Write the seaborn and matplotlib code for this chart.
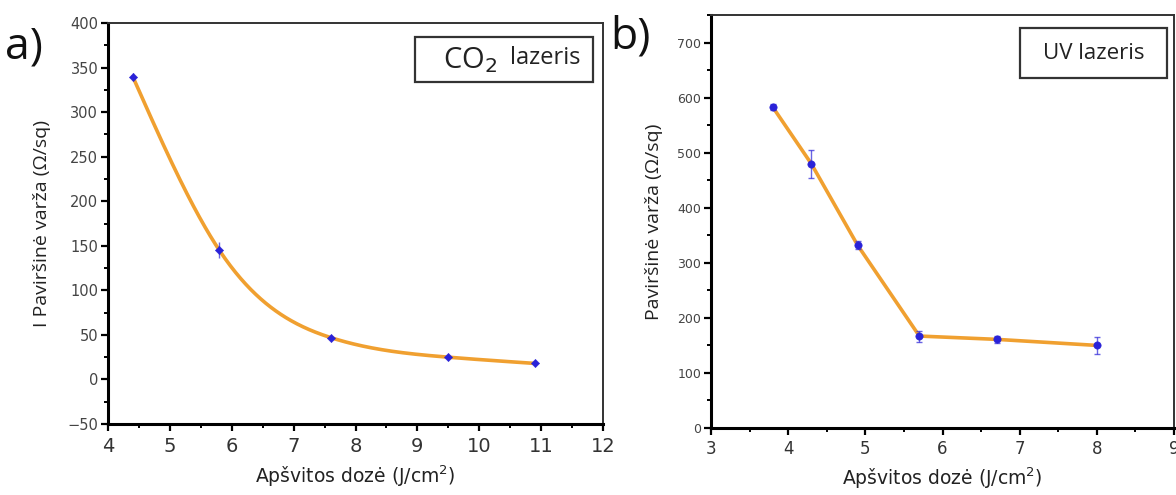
import numpy as np
import pandas as pd
import matplotlib
matplotlib.use("Agg")
import matplotlib.pyplot as plt
import seaborn as sns
from matplotlib.ticker import MultipleLocator
from matplotlib.patches import Rectangle

# ---- data ----
co2_dose = [4.4, 5.8, 7.6, 9.5, 10.9]
co2_res = [340, 145, 47, 25, 18]
co2_err = [4, 9, 3, 3, 3]

uv_dose = [3.8, 4.3, 4.9, 5.7, 6.7, 8.0]
uv_res = [583, 480, 332, 167, 161, 150]
uv_err = [6, 25, 7, 10, 7, 15]

xlabel = "Apšvitos dozė (J/cm$^2$)"
ylabel_a = "I Paviršinė varža (Ω/sq)"
ylabel_b = "Paviršinė varža (Ω/sq)"
box_a_main = "CO$_2$"
box_a_rest = "lazeris"
box_b = "UV lazeris"

sns.set_theme(style="ticks")
plt.rcParams['font.family'] = ['DejaVu Sans']
SANS = ["Open Sans", "DejaVu Sans"]

ORANGE = "#F0A030"
BLUE = "#2A22D8"

fig = plt.figure(figsize=(11.76, 4.95), dpi=100)
ax_a = fig.add_axes([0.0918, 0.1434, 0.421, 0.810])
ax_b = fig.add_axes([0.6046, 0.1354, 0.3937, 0.834])


# ---- natural cubic spline connection through the points (panel a) ----
def natural_spline(x, y, xs):
    x = np.asarray(x, float)
    y = np.asarray(y, float)
    n = len(x)
    h = np.diff(x)
    A = np.zeros((n, n))
    r = np.zeros(n)
    A[0, 0] = A[-1, -1] = 1.0
    for i in range(1, n - 1):
        A[i, i - 1] = h[i - 1]
        A[i, i] = 2 * (h[i - 1] + h[i])
        A[i, i + 1] = h[i]
        r[i] = 6 * ((y[i + 1] - y[i]) / h[i] - (y[i] - y[i - 1]) / h[i - 1])
    M = np.linalg.solve(A, r)
    idx = np.clip(np.searchsorted(x, xs) - 1, 0, n - 2)
    x0, x1 = x[idx], x[idx + 1]
    hh = x1 - x0
    a = (x1 - xs) / hh
    b = (xs - x0) / hh
    return (a * y[idx] + b * y[idx + 1]
            + ((a ** 3 - a) * M[idx] + (b ** 3 - b) * M[idx + 1]) * hh ** 2 / 6)


xf = np.linspace(min(co2_dose), max(co2_dose), 400)
fit_df = pd.DataFrame({"x": xf, "y": natural_spline(co2_dose, co2_res, xf)})

sns.lineplot(data=fit_df, x="x", y="y", ax=ax_a, color=ORANGE, lw=2.6, zorder=2)
ax_a.errorbar(co2_dose, co2_res, yerr=co2_err, fmt="none", ecolor=BLUE,
              elinewidth=1.0, capsize=0, zorder=3, alpha=0.7)
sns.scatterplot(x=co2_dose, y=co2_res, ax=ax_a, color=BLUE, marker="D",
                s=18, edgecolor=BLUE, zorder=4)

uv_df = pd.DataFrame({"x": uv_dose, "y": uv_res})
sns.lineplot(data=uv_df, x="x", y="y", ax=ax_b, color=ORANGE, lw=2.6, zorder=2)
ax_b.errorbar(uv_dose, uv_res, yerr=uv_err, fmt="none", ecolor=BLUE,
              elinewidth=1.0, capsize=2, zorder=3, alpha=0.7)
sns.scatterplot(data=uv_df, x="x", y="y", ax=ax_b, color=BLUE, marker="o",
                s=28, edgecolor=BLUE, zorder=4)


# ---- axes styling ----
def style(ax, xlim, ylim, xmaj, ymaj, xfs, yfs):
    ax.set_xlim(*xlim)
    ax.set_ylim(*ylim)
    ax.xaxis.set_major_locator(MultipleLocator(xmaj))
    ax.xaxis.set_minor_locator(MultipleLocator(xmaj / 2))
    ax.yaxis.set_major_locator(MultipleLocator(ymaj))
    ax.yaxis.set_minor_locator(MultipleLocator(ymaj / 2))
    ax.tick_params(axis="both", which="major", direction="out", length=5,
                   width=1.6, color="black")
    ax.tick_params(axis="both", which="minor", direction="out", length=3,
                   width=1.4, color="black")
    ax.tick_params(axis="x", labelsize=xfs, labelcolor="#333333", pad=4)
    ax.tick_params(axis="y", labelsize=yfs, labelcolor="#444444", pad=2)
    for s in ["left", "bottom"]:
        ax.spines[s].set_linewidth(2.2)
        ax.spines[s].set_color("black")
    for s in ["top", "right"]:
        ax.spines[s].set_linewidth(1.4)
        ax.spines[s].set_color("#333333")
    ax.set_facecolor("white")


style(ax_a, (4, 12), (-50, 400), 1, 50, 14, 10.5)
style(ax_b, (3, 9), (0, 750), 1, 100, 12, 9)

ax_a.set_xlabel(xlabel, fontsize=13.5, color="#222222", labelpad=6)
ax_b.set_xlabel(xlabel, fontsize=13.5, color="#222222", labelpad=5)
ax_a.set_ylabel(ylabel_a, fontsize=14, color="#222222", family=SANS, labelpad=12)
ax_b.set_ylabel(ylabel_b, fontsize=14, color="#222222", family=SANS, labelpad=10)

# label boxes
ax_a.add_patch(Rectangle((0.620, 0.853), 0.360, 0.112, transform=ax_a.transAxes,
                         fc="white", ec="#333333", lw=1.6, zorder=5))
ax_a.text(0.786, 0.906, box_a_main, transform=ax_a.transAxes, ha="right",
          va="center", fontsize=21, family=SANS, color="#222222", zorder=6)
ax_a.text(0.812, 0.914, box_a_rest, transform=ax_a.transAxes, ha="left",
          va="center", fontsize=17, family=SANS, color="#222222", zorder=6)

ax_b.add_patch(Rectangle((0.667, 0.847), 0.318, 0.122, transform=ax_b.transAxes,
                         fc="white", ec="#333333", lw=1.6, zorder=5))
ax_b.text(0.826, 0.908, box_b, transform=ax_b.transAxes, ha="center",
          va="center", fontsize=16, family=SANS, color="#222222", zorder=6)

fig.text(0.004, 0.905, "a)", fontsize=32, family=SANS,
         color="#111111", va="center", ha="left")
fig.text(0.519, 0.925, "b)", fontsize=32, family=SANS,
         color="#111111", va="center", ha="left")

fig.savefig("out.png", dpi=100, facecolor="white")
